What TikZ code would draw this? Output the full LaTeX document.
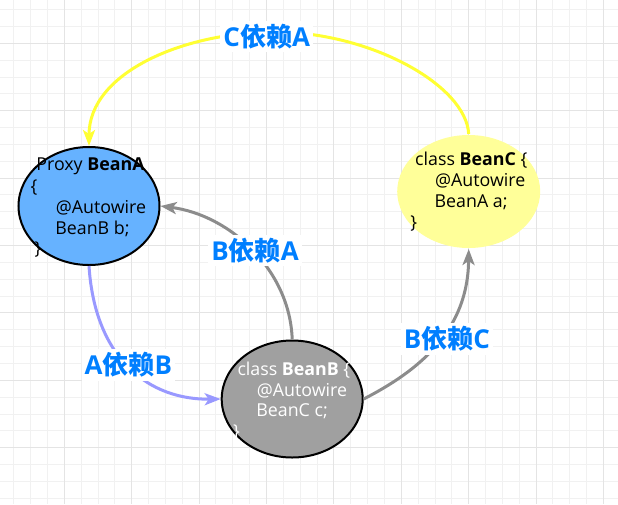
\documentclass[tikz,border=0pt]{standalone}
\usepackage{fontspec}
\setmainfont{Open Sans}
\newfontfamily\cjk{Noto Sans CJK SC}
\usetikzlibrary{shapes.geometric,arrows.meta}
\definecolor{gridminor}{HTML}{F1F1F1}
\definecolor{gridmajor}{HTML}{E4E4E4}
\definecolor{beanAfill}{HTML}{66B2FF}
\definecolor{beanBfill}{HTML}{A0A0A0}
\definecolor{beanCfill}{HTML}{FFFF99}
\definecolor{yelline}{HTML}{FFFF33}
\definecolor{grayline}{HTML}{8C8C8C}
\definecolor{purpline}{HTML}{9999FF}
\definecolor{lblblue}{HTML}{007FFF}
\begin{document}
\begin{tikzpicture}[x=1pt,y=-1pt,
  bean/.style={ellipse, line width=2pt, inner sep=0pt},
  txt/.style={anchor=base west, inner sep=0pt, font=\fontsize{17.8pt}{21pt}\selectfont},
  lbl/.style={fill=white, text=lblblue, inner sep=3pt, font=\fontsize{26pt}{30pt}\selectfont\bfseries},
  conn/.style={line width=3pt, -{Stealth[length=16pt,width=12pt,inset=4pt]}},
  gmin/.style={gridminor, line width=1pt},
  gmaj/.style={gridmajor, line width=1pt}
]
\useasboundingbox (0,0) rectangle (618,504);
\fill[white] (0,0) rectangle (618,504);
% grid
\foreach \i in {0,...,35} \draw[gmin] ({13.75+16.85*\i},0) -- ({13.75+16.85*\i},504);
\foreach \i in {0,...,29} \draw[gmin] (0,{9.6+16.85*\i}) -- (618,{9.6+16.85*\i});
\foreach \i in {0,...,8} \draw[gmaj] ({64.3+67.4*\i},0) -- ({64.3+67.4*\i},504);
\foreach \i in {0,...,6} \draw[gmaj] (0,{43.3+67.4*\i}) -- (618,{43.3+67.4*\i});
% beans
\node[bean, draw=black, fill=beanAfill, minimum width=141pt, minimum height=118pt] (A) at (89,206) {};
\node[bean, draw=black, fill=beanBfill, minimum width=141pt, minimum height=117pt] (B) at (292.2,399) {};
\node[bean, fill=beanCfill, minimum width=143pt, minimum height=113pt] (C) at (468.7,191.5) {};
% texts of A
\node[txt] (a1) at (36.2,170.7) {Proxy \textbf{BeanA}};
\node[txt] (a2) at (30.3,192) {\{};
\node[txt] (a3) at (55.7,213.3) {@Autowire};
\node[txt] (a4) at (55.2,234) {BeanB b;};
\node[txt] (a5) at (34.5,254.7) {\}};
% texts of B
\node[txt, text=white] (b1) at (237.3,375) {class \textbf{BeanB} \{};
\node[txt, text=white] (b2) at (256.7,396) {@Autowire};
\node[txt, text=white] (b3) at (256.2,416.7) {BeanC c;};
\node[txt, text=white] (b4) at (232.8,437.4) {\}};
% texts of C
\node[txt] (c1) at (415,165.7) {class \textbf{BeanC} \{};
\node[txt] (c2) at (435,186.5) {@Autowire};
\node[txt] (c3) at (434.5,207.3) {BeanA a;};
\node[txt] (c4) at (410.2,228) {\}};
% connectors
\draw[conn, yelline] (C.north) .. controls (466,85) and (370,32) .. (275,32)
  .. controls (185,32) and (89,72) .. (A.north);
\draw[conn, grayline] (B.north) .. controls (290,270) and (230,215) .. (A.east);
\draw[conn, grayline] (B.east) .. controls (420,370) and (468,330) .. (C.south);
\draw[conn, purpline] (A.south) .. controls (95,360) and (150,400) .. (B.west);
% labels
\node[lbl] (lca) at (266.7,36.5) {C{\cjk 依赖}A};
\node[lbl] (lba) at (255,250.8) {B{\cjk 依赖}A};
\node[lbl] (lbc) at (447,339) {B{\cjk 依赖}C};
\node[lbl] (lab) at (128.3,365) {A{\cjk 依赖}B};
\end{tikzpicture}
\end{document}
